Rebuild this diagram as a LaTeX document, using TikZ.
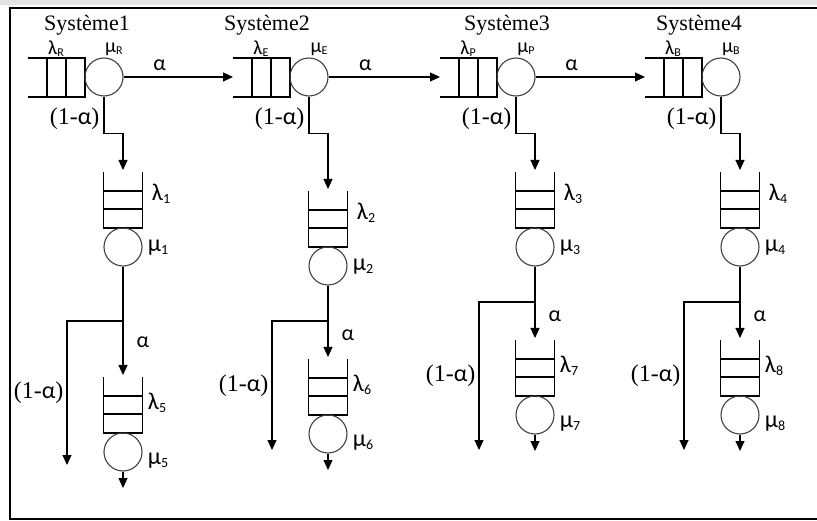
\documentclass[tikz,border=0pt]{standalone}
\usepackage{fontspec}
\setmainfont{Liberation Serif}
\newfontfamily\grk{Carlito}
\usetikzlibrary{arrows.meta}

\newcommand{\gbig}[2]{{\grk\fontsize{24}{24}\selectfont #1\raisebox{-3pt}{\fontsize{14}{14}\selectfont #2}}}
\newcommand{\gsmall}[2]{{\grk\fontsize{20}{20}\selectfont #1\raisebox{-2pt}{\fontsize{12}{12}\selectfont #2}}}

\tikzset{
  fil/.style={line width=1.1pt},
  serveur/.style={circle,draw=black!75,line width=1.1pt,minimum size=38pt,inner sep=0pt},
  fleche/.style={line width=1.1pt,-{Triangle[length=10pt,width=9pt]}},
  lbl/.style={inner sep=1pt,font=\fontsize{22}{22}\selectfont\grk},
  titre/.style={inner sep=0pt,font=\fontsize{22}{22}\selectfont},
  proba/.style={inner sep=1pt,font=\fontsize{24}{24}\selectfont},
}

\begin{document}
\begin{tikzpicture}[x=1pt,y=-1pt]
  \useasboundingbox (0,0) rectangle (817,521);
  %frame
  \fill[gray!22] (0,0) rectangle (817,5);
  \draw[line width=1.3pt] (817,8) -- (10,8) -- (10,519) -- (817,519);

  \foreach \i/\lq/\sx/\nm/\tv/\br/\tl/\ly in {1/28/87/R/172/321/377/465,2/233/267/E/191/321/359/450,3/440/507/P/172/302/340/450,4/645/699/B/172/302/340/450}{
    \pgfmathsetmacro\xv{\lq+95}
    \pgfmathtruncatemacro\k{\i+4}
    %top queue
    \draw[fil] (\lq,58) -| (\lq+57,97) -- (\lq,97);
    \draw[fil] (\lq+19,58) -- (\lq+19,97) (\lq+38,58) -- (\lq+38,97);
    \coordinate (e\i) at (\lq,77);
    \node[serveur] (c\i) at (\lq+76,77) {};
    \node[titre] (s\i) at (\sx,25) {Système\i};
    \node[inner sep=0pt] (lh\i) at (\lq+28,49) {\gsmall{λ}{\nm}};
    \node[inner sep=0pt] (mh\i) at (\lq+86,49) {\gsmall{μ}{\nm}};

    %first vertical queue
    \draw[fil] (\xv-19.5,\tv) |- (\xv+19.5,\tv+56) -- (\xv+19.5,\tv);
    \draw[fil] (\xv-19.5,\tv+19) -- ++(39,0) (\xv-19.5,\tv+37) -- ++(39,0);
    \coordinate (t\i) at (\xv,\tv-2);
    \node[serveur] (v\i) at (\xv,\tv+75) {};
    \node[inner sep=0pt] (lv\i) at (\xv+38,\tv+22) {\gbig{λ}{\i}};
    \node[inner sep=0pt] (mv\i) at (\xv+35,\tv+76) {\gbig{μ}{\i}};
    \draw[fleche] (c\i.south) -- ++(0,37) node[pos=.6,left=3pt,proba]{(1-{\grk α})} -| (t\i);

    %branch
    \coordinate (b\i) at (\xv,\br);
    \coordinate (u\i) at (\xv,\tl-2);
    \coordinate (g\i) at (\xv-56,\ly);
    \draw[fil] (v\i.south) -- (b\i);
    \draw[fleche] (b\i) -- (u\i) node[pos=.4,right=12pt,lbl]{α};
    \draw[fleche] (b\i) -| (g\i) node[pos=.75,left=2pt,proba]{(1-{\grk α})};

    %second vertical queue
    \draw[fil] (\xv-19.5,\tl) |- (\xv+19.5,\tl+56) -- (\xv+19.5,\tl);
    \draw[fil] (\xv-19.5,\tl+19) -- ++(39,0) (\xv-19.5,\tl+37) -- ++(39,0);
    \node[serveur] (w\i) at (\xv,\tl+75) {};
    \coordinate (o\i) at (\xv,\tl+111);
    \draw[fleche] (w\i.south) -- (o\i);
    \node[inner sep=0pt] (lw\i) at (\xv+34,\tl+26) {\gbig{λ}{\k}};
    \node[inner sep=0pt] (mw\i) at (\xv+35,\tl+84) {\gbig{μ}{\k}};
  }

  %alpha links
  \foreach \i/\j in {1/2,2/3,3/4}
    \draw[fleche] (c\i.east) -- (e\j) node[pos=.33,above=5pt,lbl]{α};
\end{tikzpicture}
\end{document}
